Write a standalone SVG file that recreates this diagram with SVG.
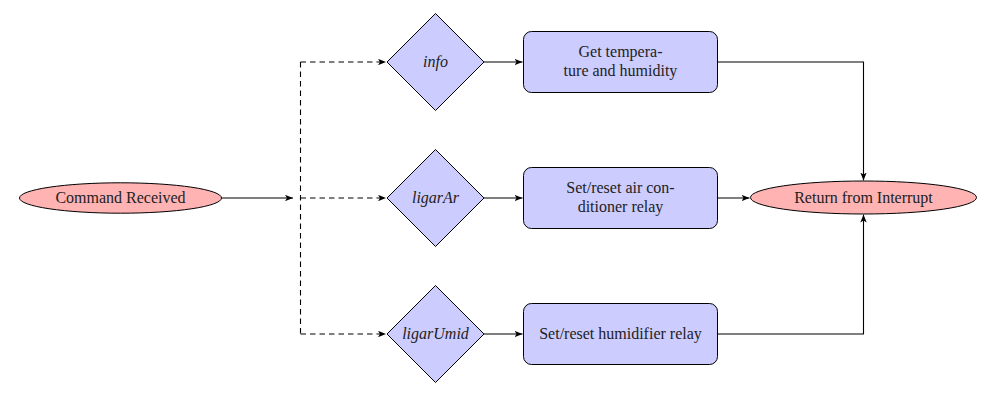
<svg xmlns="http://www.w3.org/2000/svg" width="987" height="406" viewBox="0 0 987 406">
<defs>
<marker id="arr" viewBox="0 0 10 8" refX="10" refY="4" markerWidth="8" markerHeight="6.4" markerUnits="userSpaceOnUse" orient="auto">
<path d="M0,0 L10,4 L0,8 L2.5,4 Z" fill="#000"/>
</marker>
</defs>
<style>
.term{fill:#ffb3b3;stroke:#000;stroke-width:1}
.dec{fill:#ccccff;stroke:#000;stroke-width:1}
.proc{fill:#ccccff;stroke:#000;stroke-width:1}
.t{font-family:'Liberation Serif','DejaVu Serif',serif;font-size:16px;fill:#222;text-anchor:middle}
.it{font-style:italic}
.ln{fill:none;stroke:#000;stroke-width:1.1;marker-end:url(#arr)}
.dash{fill:none;stroke:#000;stroke-width:1.1;stroke-dasharray:5.5,4}
</style>
<rect width="987" height="406" fill="#fff"/>
<g id="connectors">
<path class="ln" d="M221.5,198 H293"/>
<path class="dash" d="M300.5,62 V334"/>
<path class="dash" d="M300.5,62 H386" marker-end="url(#arr)"/>
<path class="dash" d="M300.5,198 H386" marker-end="url(#arr)"/>
<path class="dash" d="M300.5,334 H386" marker-end="url(#arr)"/>
<path class="ln" d="M484,62 H522.5"/>
<path class="ln" d="M484,198 H522.5"/>
<path class="ln" d="M484,334 H522.5"/>
<path class="ln" d="M717,62 H863.5 V180.5"/>
<path class="ln" d="M717,198 H749.5"/>
<path class="ln" d="M717,334 H863.5 V214.5"/>
</g>
<g id="cmd">
<ellipse class="term" cx="120.5" cy="198" rx="101" ry="15.2"/>
<text class="t" x="120.5" y="203">Command Received</text>
</g>
<g id="info">
<polygon class="dec" points="435.5,13.5 484,62 435.5,110.5 387,62"/>
<text class="t it" x="435.5" y="66.5">info</text>
</g>
<g id="ligarAr">
<polygon class="dec" points="435.5,149.5 484,198 435.5,246.5 387,198"/>
<text class="t it" x="435.5" y="202.5">ligarAr</text>
</g>
<g id="ligarUmid">
<polygon class="dec" points="435.5,285.5 484,334 435.5,382.5 387,334"/>
<text class="t it" x="435.5" y="338.5">ligarUmid</text>
</g>
<g id="getTemp">
<rect class="proc" x="523.5" y="31.5" width="194" height="61" rx="8"/>
<text class="t" x="620.5" y="56.5">Get tempera-</text>
<text class="t" x="620.5" y="76">ture and humidity</text>
</g>
<g id="setAir">
<rect class="proc" x="523.5" y="167.5" width="194" height="61" rx="8"/>
<text class="t" x="620.5" y="192.5">Set/reset air con-</text>
<text class="t" x="620.5" y="212">ditioner relay</text>
</g>
<g id="setHum">
<rect class="proc" x="523.5" y="303.5" width="194" height="61" rx="8"/>
<text class="t" x="620.5" y="339">Set/reset humidifier relay</text>
</g>
<g id="ret">
<ellipse class="term" cx="863.5" cy="197.5" rx="113" ry="16.5"/>
<text class="t" x="863.5" y="202.5">Return from Interrupt</text>
</g>
</svg>
